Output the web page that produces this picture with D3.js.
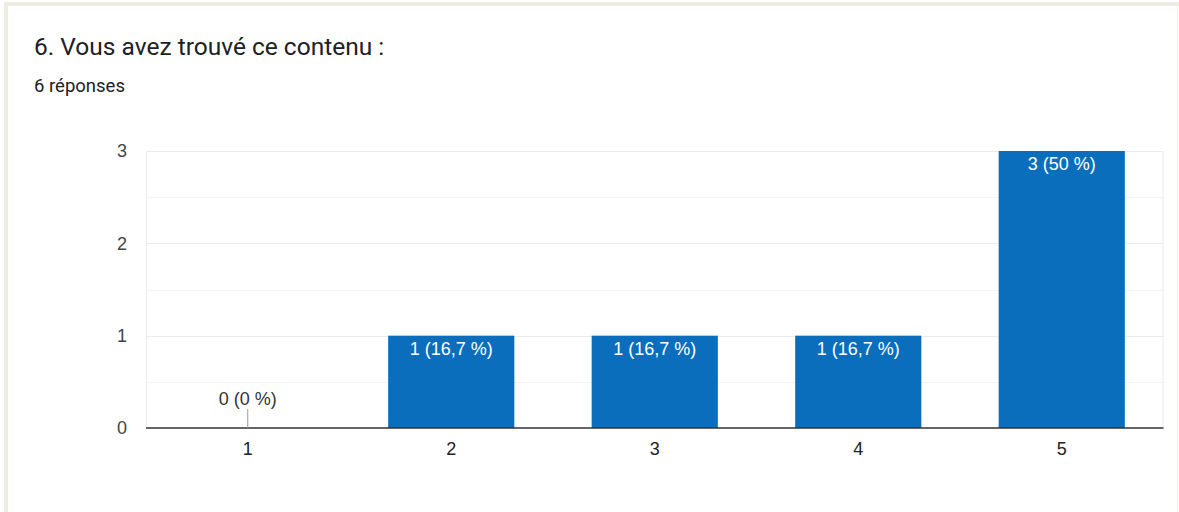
<!DOCTYPE html>
<html>
<head>
<meta charset="utf-8">
<script src="https://cdn.jsdelivr.net/npm/d3@7"></script>
<style>
  body { margin: 0; background: #fff; }
  svg { display: block; font-family: Arial, "Liberation Sans", sans-serif; }
</style>
</head>
<body>
<div id="chart"></div>
<script>
var categories = ["1", "2", "3", "4", "5"];
var counts = [0, 1, 1, 1, 3];
var labels = ["0 (0 %)", "1 (16,7 %)", "1 (16,7 %)", "1 (16,7 %)", "3 (50 %)"];
var yTicks = [0, 1, 2, 3];

var W = 1179, H = 512;
var svg = d3.select("#chart").append("svg")
  .attr("width", W)
  .attr("height", H);

// card frame
svg.append("rect").attr("x", 0).attr("y", 0).attr("width", W).attr("height", H).attr("fill", "#fff");
svg.append("rect").attr("x", 4).attr("y", 2).attr("width", W - 4).attr("height", 4).attr("fill", "#efede3");
svg.append("rect").attr("x", 4).attr("y", 2).attr("width", 4).attr("height", H).attr("fill", "#efede3");
svg.append("line").attr("x1", 1177.5).attr("x2", 1177.5).attr("y1", 6).attr("y2", H)
  .attr("stroke", "#f1efe8");

svg.append("text").attr("x", 34).attr("y", 55)
  .attr("font-family", "Roboto, Arial, sans-serif")
  .attr("font-size", 24.5).attr("fill", "#202124")
  .text("6. Vous avez trouvé ce contenu :");
svg.append("text").attr("x", 34).attr("y", 92)
  .attr("font-family", "Roboto, Arial, sans-serif")
  .attr("font-size", 18.5).attr("fill", "#202124")
  .text("6 réponses");

var pLeft = 146, pRight = 1163.5, pTop = 151, pBottom = 428;

var x = d3.scaleBand().domain(categories).range([pLeft, pRight]).paddingInner(0.38).paddingOuter(0.19);
var y = d3.scaleLinear().domain([0, 3]).range([pBottom, pTop]);

// minor gridlines
var minor = d3.range(0.5, 3, 1);
svg.append("g").selectAll("line").data(minor).enter().append("line")
  .attr("x1", pLeft).attr("x2", pRight)
  .attr("y1", function(d){ return Math.round(y(d)) + 0.5; }).attr("y2", function(d){ return Math.round(y(d)) + 0.5; })
  .attr("stroke", "#f4f4f4");

// major gridlines
svg.append("g").selectAll("line").data(yTicks.slice(1)).enter().append("line")
  .attr("x1", pLeft).attr("x2", pRight)
  .attr("y1", function(d){ return Math.round(y(d)) + 0.5; }).attr("y2", function(d){ return Math.round(y(d)) + 0.5; })
  .attr("stroke", "#ebebeb");

svg.append("line").attr("x1", pLeft + 0.5).attr("x2", pLeft + 0.5).attr("y1", pTop).attr("y2", pBottom)
  .attr("stroke", "#ebebeb");
svg.append("line").attr("x1", pRight - 0.5).attr("x2", pRight - 0.5).attr("y1", pTop).attr("y2", pBottom)
  .attr("stroke", "#ebebeb");

// y axis labels
var yAxis = d3.axisLeft(y).tickValues(yTicks).tickSize(0).tickPadding(19).tickFormat(d3.format("d"));
var ya = svg.append("g").attr("transform", "translate(" + pLeft + ",0)").call(yAxis);
ya.select(".domain").remove();
ya.selectAll("text").attr("font-size", 18).attr("fill", "#444").attr("font-family", "Arial, sans-serif");

// bars
var data = categories.map(function(c, i){ return {c: c, v: counts[i], l: labels[i]}; });
svg.append("g").selectAll("rect").data(data).enter().append("rect")
  .attr("x", function(d){ return x(d.c); })
  .attr("y", function(d){ return y(d.v); })
  .attr("width", x.bandwidth())
  .attr("height", function(d){ return pBottom - y(d.v); })
  .attr("fill", "#0a6ebd");

// baseline
svg.append("line").attr("x1", pLeft).attr("x2", pRight).attr("y1", pBottom).attr("y2", pBottom)
  .attr("stroke", "#333").attr("stroke-width", 1.5);

// value labels
data.forEach(function(d){
  var cx = x(d.c) + x.bandwidth() / 2;
  if (d.v === 0) {
    svg.append("line").attr("x1", cx).attr("x2", cx).attr("y1", pBottom - 19).attr("y2", pBottom)
      .attr("stroke", "#999");
    svg.append("text").attr("x", cx).attr("y", pBottom - 23)
      .attr("text-anchor", "middle").attr("font-size", 18).attr("fill", "#333")
      .text(d.l);
  } else {
    svg.append("text").attr("x", cx).attr("y", y(d.v) + 19)
      .attr("text-anchor", "middle").attr("font-size", 18).attr("fill", "#fff")
      .text(d.l);
  }
});

// x axis labels
var xAxis = d3.axisBottom(x).tickSize(0).tickPadding(14);
var xa = svg.append("g").attr("transform", "translate(0," + pBottom + ")").call(xAxis);
xa.select(".domain").remove();
xa.selectAll("text").attr("font-size", 18).attr("fill", "#222").attr("font-family", "Arial, sans-serif");
</script>
</body>
</html>
